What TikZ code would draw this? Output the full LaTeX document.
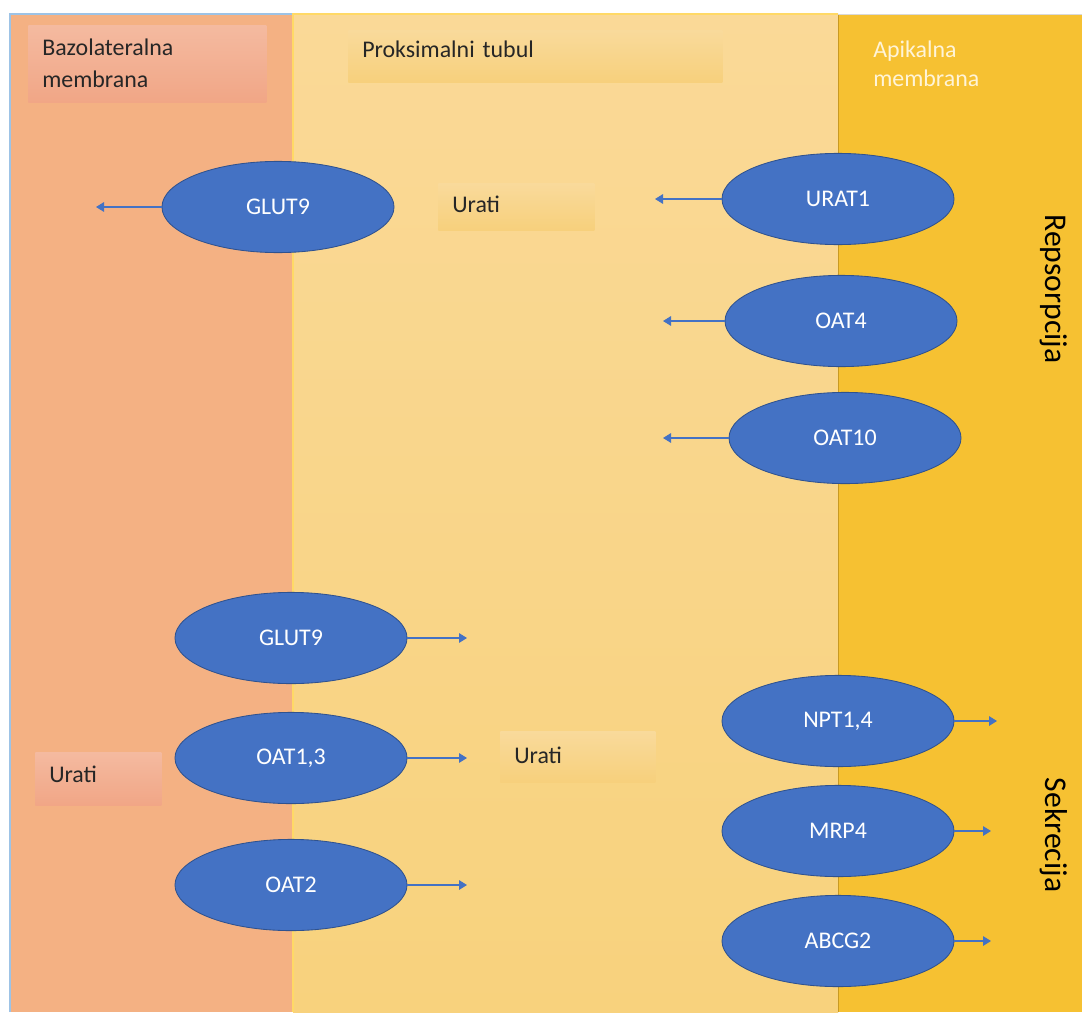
\documentclass[tikz,border=0pt]{standalone}
\usepackage{fontspec}
\setmainfont{Carlito}
\usetikzlibrary{shapes.geometric,arrows.meta}

\definecolor{bazo}{HTML}{F4B183}
\definecolor{bazogore}{HTML}{F4BAA0}
\definecolor{bazodolje}{HTML}{F1A686}
\definecolor{tubulgore}{HTML}{FAD997}
\definecolor{tubuldolje}{HTML}{F8D27D}
\definecolor{natgore}{HTML}{F9DA9B}
\definecolor{natdolje}{HTML}{F7D07C}
\definecolor{apik}{HTML}{F6C132}
\definecolor{apikrub}{HTML}{C99A22}
\definecolor{svplava}{HTML}{9DC3E6}
\definecolor{zutirub}{HTML}{FFD966}
\definecolor{plava}{HTML}{4472C4}
\definecolor{plavarub}{HTML}{2F528F}
\definecolor{tekst}{HTML}{262626}
\definecolor{svjetlo}{HTML}{FFF4D8}

\tikzset{
  prijenosnik/.style={ellipse, fill=plava, draw=plavarub, line width=0.6pt,
    minimum width=5.8cm, minimum height=2.28cm, inner sep=0pt,
    text=white, font=\fontsize{17}{20}\selectfont},
  tok/.style={draw=plava, line width=0.8pt, -{Triangle[length=0.2cm,width=0.24cm]}},
  natpis/.style={anchor=north west, inner xsep=0.35cm, inner ysep=0pt, align=left,
    text=tekst, font=\fontsize{17}{22.7}\selectfont},
  smjer/.style={rotate=-90, anchor=base, text=black, font=\fontsize{22.5}{27}\selectfont}
}

\begin{document}
\begin{tikzpicture}[x=0.025cm,y=-0.025cm]

  % Okvir slike
  \useasboundingbox (0,0) rectangle (1082,1012);
  \fill[white] (0,0) rectangle (1082,1012);

  % Tri podrucja
  \fill[bazo] (10,14) rectangle (293,1012);                                   % bazolateralna strana
  \shade[top color=tubulgore, bottom color=tubuldolje] (293,14) rectangle (838,1012); % tubul
  \fill[apik] (838,14) rectangle (1082,1012);                                 % apikalna strana
  \draw[svplava, line width=0.8pt] (10,1012) -- (10,14) -- (293,14);
  \draw[zutirub, line width=0.8pt] (293,1012) -- (293,14) -- (838,14);
  \draw[apikrub, line width=0.6pt] (838,1012) -- (838,14);
  \draw[black!15, line width=0.6pt] (838,14) -- (1082,14);

  % Natpisi podrucja
  \node[natpis, text width=5.25cm, text height=0.75cm, text depth=1.175cm,
        top color=bazogore, bottom color=bazodolje] (bazolat) at (28,25) {Bazolateralna\\membrana};
  \node[natpis, text width=8.65cm, text height=0.675cm, text depth=0.625cm,
        top color=natgore, bottom color=natdolje] (proks) at (348,30) {Proksimalni tubul};
  \node[natpis, text=svjetlo, text width=5cm, text height=0.8cm, text depth=1cm,
        font=\fontsize{17}{20.6}\selectfont] (apikalna) at (859,25) {Apikalna\\membrana};

  % Natpisi urata
  \node[natpis, text width=3.2cm, text height=0.725cm, text depth=0.45cm,
        top color=natgore, bottom color=natdolje] (uratigore) at (438,183) {Urati};
  \node[natpis, text width=3.175cm, text height=0.8cm, text depth=0.475cm,
        top color=natgore, bottom color=natdolje] (uratisredina) at (500,731) {Urati};
  \node[natpis, text width=2.45cm, text height=0.75cm, text depth=0.575cm,
        top color=bazogore, bottom color=bazodolje] (uratilijevo) at (35,752) {Urati};

  % Smjer prijenosa
  \node[smjer] (reaps) at (1045,289) {Repsorpcija};
  \node[smjer] (sekr) at (1045,835) {Sekrecija};

  % Prijenosnici
  \node[prijenosnik] (glut9gore) at (278,207) {GLUT9};
  \node[prijenosnik] (urat1) at (838,199) {URAT1};
  \node[prijenosnik] (oat4) at (841,321) {OAT4};
  \node[prijenosnik] (oat10) at (845,438) {OAT10};
  \node[prijenosnik] (glut9dolje) at (291,638) {GLUT9};
  \node[prijenosnik] (oat13) at (291,758) {OAT1,3};
  \node[prijenosnik] (oat2) at (291,885) {OAT2};
  \node[prijenosnik] (npt14) at (838,721) {NPT1,4};
  \node[prijenosnik] (mrp4) at (838,831) {MRP4};
  \node[prijenosnik] (abcg2) at (838,941) {ABCG2};

  % Krajevi strelica
  \coordinate (kglut9gore) at (96,207);
  \coordinate (kurat1) at (655,199);
  \coordinate (koat4) at (663,321);
  \coordinate (koat10) at (663,438);
  \coordinate (kglut9dolje) at (467,638);
  \coordinate (koat13) at (467,758);
  \coordinate (koat2) at (467,885);
  \coordinate (knpt14) at (997,721);
  \coordinate (kmrp4) at (991,831);
  \coordinate (kabcg2) at (991,941);

  % Strelice
  \draw[tok] (glut9gore.west) -- (kglut9gore);
  \draw[tok] (urat1.west) -- (kurat1);
  \draw[tok] (oat4.west) -- (koat4);
  \draw[tok] (oat10.west) -- (koat10);
  \draw[tok] (glut9dolje.east) -- (kglut9dolje);
  \draw[tok] (oat13.east) -- (koat13);
  \draw[tok] (oat2.east) -- (koat2);
  \draw[tok] (npt14.east) -- (knpt14);
  \draw[tok] (mrp4.east) -- (kmrp4);
  \draw[tok] (abcg2.east) -- (kabcg2);

\end{tikzpicture}
\end{document}
